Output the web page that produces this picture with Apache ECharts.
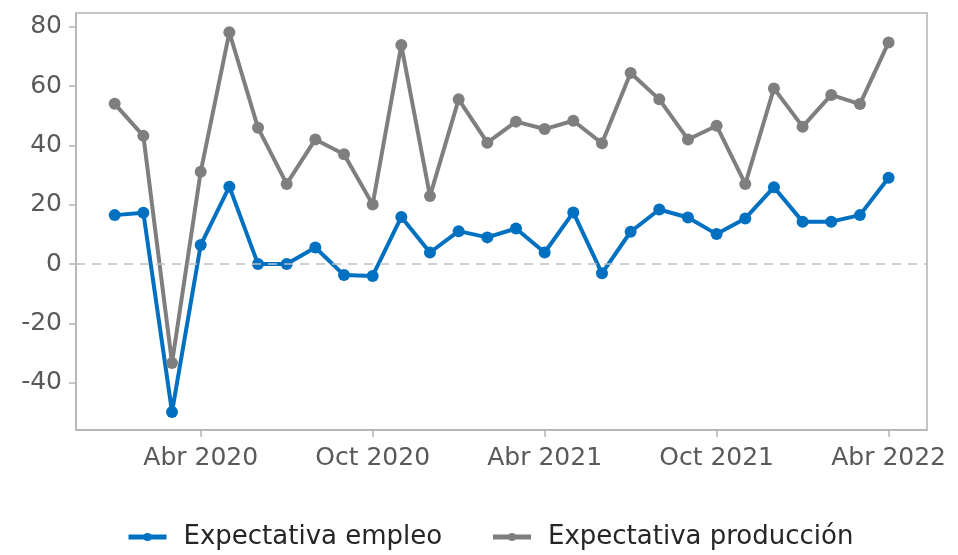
<!DOCTYPE html>
<html>
<head>
<meta charset="utf-8">
<script src="https://cdn.jsdelivr.net/npm/echarts@6/dist/echarts.min.js"></script>
<style>
  html, body { margin: 0; padding: 0; background: #fff; }
  #chart { width: 958px; height: 555px; }
</style>
</head>
<body>
<div id="chart"></div>
<script>
// meses (eje x), enero 2020 a abril 2022
const months = [
  'Ene 2020', 'Feb 2020', 'Mar 2020', 'Abr 2020', 'May 2020', 'Jun 2020',
  'Jul 2020', 'Ago 2020', 'Sep 2020', 'Oct 2020', 'Nov 2020', 'Dic 2020',
  'Ene 2021', 'Feb 2021', 'Mar 2021', 'Abr 2021', 'May 2021', 'Jun 2021',
  'Jul 2021', 'Ago 2021', 'Sep 2021', 'Oct 2021', 'Nov 2021', 'Dic 2021',
  'Ene 2022', 'Feb 2022', 'Mar 2022', 'Abr 2022'
];
const empleo = [
  16.5, 17.3, -49.8, 6.4, 26.1, 0, 0, 5.6, -3.7, -4.0, 15.9, 3.9,
  11.1, 9.0, 12.0, 3.9, 17.4, -3.1, 10.9, 18.4, 15.7, 10.1, 15.4, 25.9,
  14.3, 14.3, 16.5, 29.1
];
const produccion = [
  54.0, 43.2, -33.3, 31.1, 78.1, 45.9, 27.0, 42.0, 37.0, 20.1, 73.8, 22.9,
  55.5, 40.9, 48.0, 45.5, 48.3, 40.7, 64.4, 55.5, 42.0, 46.6, 27.0, 59.2,
  46.3, 57.0, 53.9, 74.7
];
const xTicks = ['Abr 2020', 'Oct 2020', 'Abr 2021', 'Oct 2021', 'Abr 2022'];
const yTicks = [-40, -20, 0, 20, 40, 60, 80];

const FONT = 'DejaVu Sans';
const AXIS_GREY = '#b4b4b4';
const xTickIdx = xTicks.map(m => months.indexOf(m));

const chart = echarts.init(document.getElementById('chart'));

const mkSeries = (name, values, color) => ({
  name,
  type: 'line',
  data: values.map((v, i) => [i, v]),
  symbol: 'circle',
  symbolSize: 12,
  lineStyle: { width: 4, color },
  itemStyle: { color },
  animation: false
});

const axisCommon = {
  type: 'value',
  splitLine: { show: false },
  axisLine: { show: true, onZero: false, lineStyle: { color: AXIS_GREY, width: 1.5 } }
};

const option = {
  grid: {
    left: 76, right: 31, top: 13, bottom: 125,
    show: true, borderColor: AXIS_GREY, borderWidth: 1.5
  },
  legend: {
    top: 523,
    left: 126,
    padding: 0,
    itemWidth: 38,
    itemHeight: 10,
    itemGap: 20,
    lineStyle: { width: 5 },
    textStyle: {
      fontFamily: FONT, fontSize: 26, color: '#262626',
      lineHeight: 28, width: 287, padding: [0, 0, 0, 12]
    },
    data: ['Expectativa empleo', 'Expectativa producción']
  },
  xAxis: Object.assign({}, axisCommon, {
    min: -1.35,
    max: 28.34,
    axisTick: { show: true, customValues: xTickIdx, length: 7, lineStyle: { color: AXIS_GREY, width: 1.5 } },
    axisLabel: {
      customValues: xTickIdx,
      formatter: v => months[v],
      fontFamily: FONT, fontSize: 25, color: '#595959', margin: 16
    }
  }),
  yAxis: Object.assign({}, axisCommon, {
    min: -55.9,
    max: 84.6,
    axisTick: { show: true, customValues: yTicks, length: 7, lineStyle: { color: AXIS_GREY, width: 1.5 } },
    axisLabel: {
      customValues: yTicks,
      fontFamily: FONT, fontSize: 25, color: '#595959', margin: 14
    }
  }),
  series: [
    Object.assign(mkSeries('Expectativa producción', produccion, '#7f7f7f'), {
      markLine: {
        silent: true,
        symbol: 'none',
        label: { show: false },
        lineStyle: { type: [9, 7], color: '#c0c0c0', width: 1.5 },
        data: [{ yAxis: 0 }],
        animation: false
      }
    }),
    mkSeries('Expectativa empleo', empleo, '#0070c0')
  ]
};

chart.setOption(option);
</script>
</body>
</html>
